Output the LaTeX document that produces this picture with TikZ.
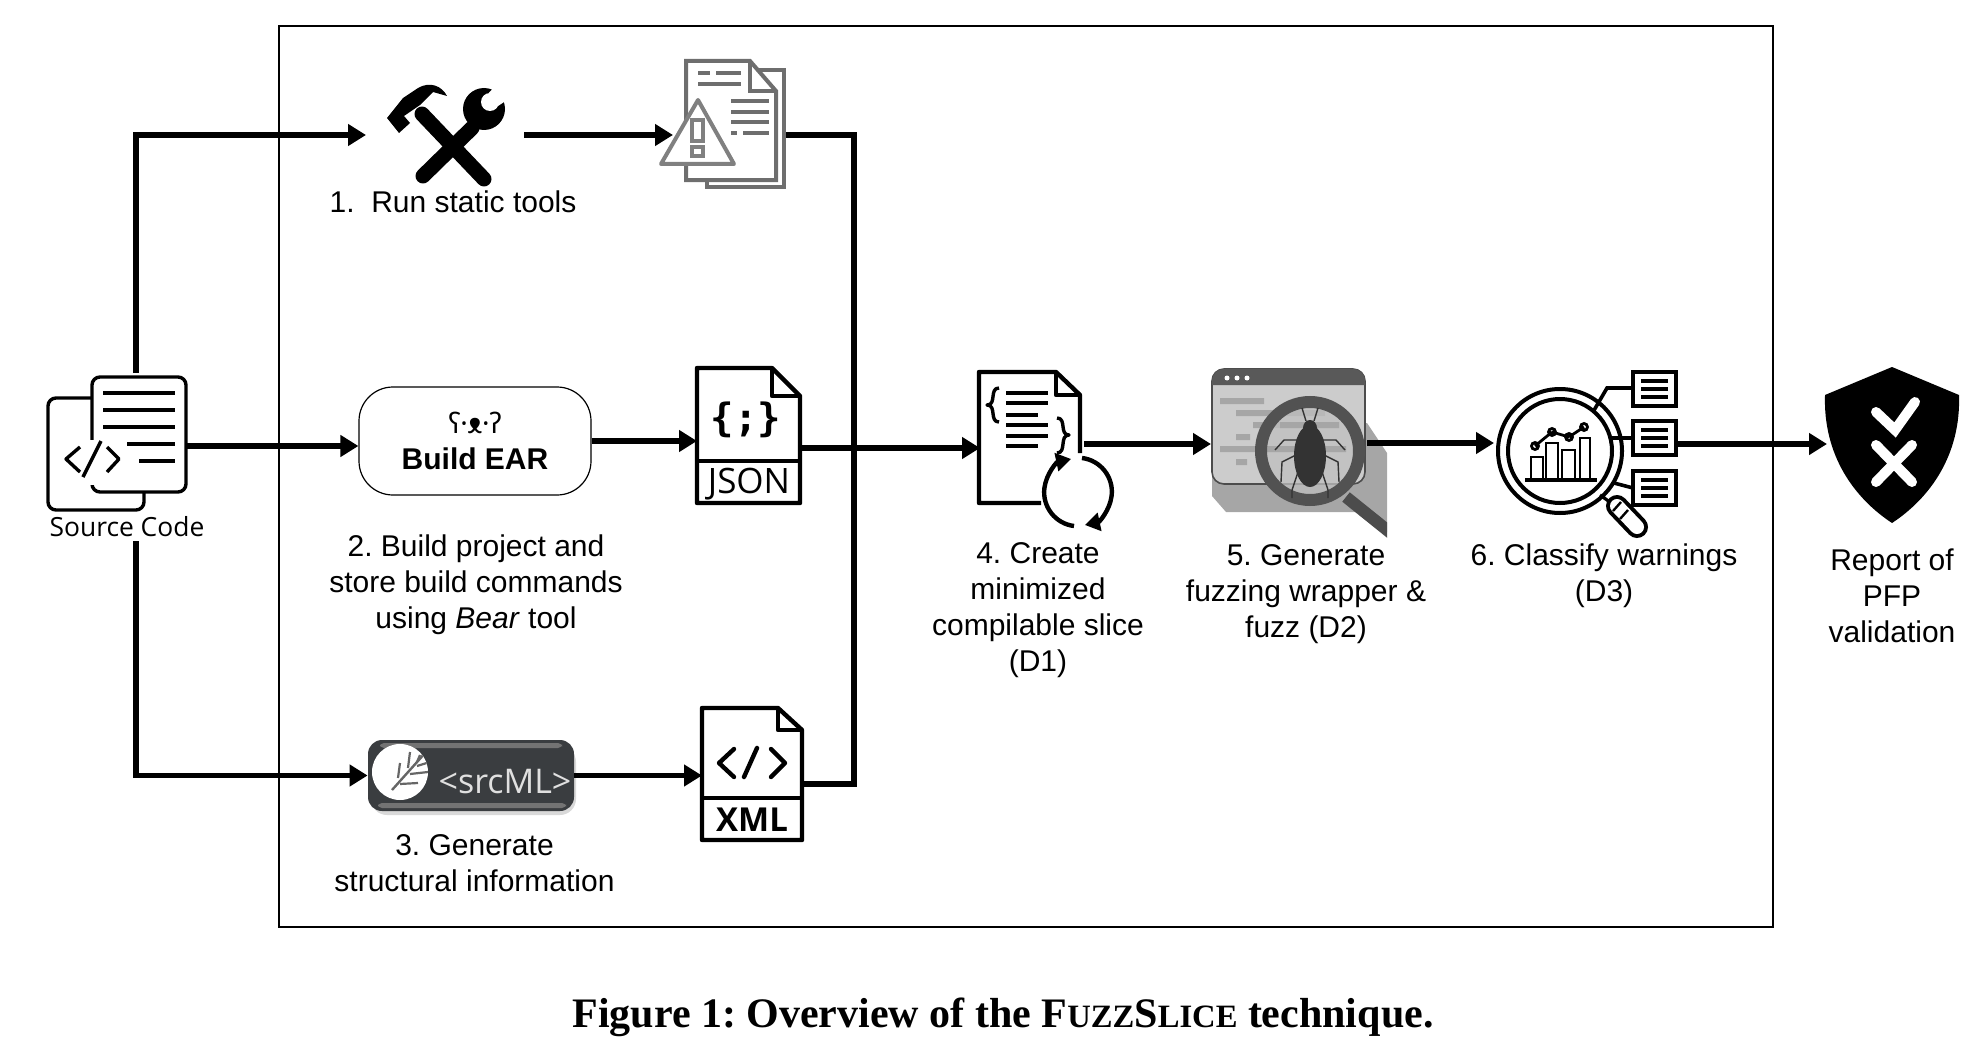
\documentclass[tikz,border=0pt]{standalone}
\usepackage{fontspec}
\setmainfont{Liberation Sans}
\newfontfamily\serifcap{Liberation Serif}
\newfontfamily\opensans{Open Sans}
\newfontfamily\notosans{Noto Sans}
\newfontfamily\dejamono{DejaVu Sans Mono}
\usetikzlibrary{arrows.meta,calc}
\definecolor{srcgray}{HTML}{3A3D40}
\definecolor{warngray}{HTML}{6E6E6E}
\frenchspacing
\tikzset{
  flow/.style={->,line width=2.8pt},
  busline/.style={line width=2.8pt,line join=miter},
  icon/.style={line width=2.2pt,line join=round},
  thinicon/.style={line width=1.7pt,line join=round},
  spot/.style={inner sep=0pt,outer sep=0pt,minimum width=#1*0.5pt,minimum height=10pt},
  stepnote/.style={font=\fontsize{15}{18}\selectfont,align=center,inner sep=0pt},
}
\begin{document}
\begin{tikzpicture}[x=0.5pt,y=-0.5pt,>={Triangle[length=9pt,width=10.5pt]}]
\useasboundingbox (0,0) rectangle (1976,1038);
\draw[line width=1pt] (278.5,26.5) rectangle (1773,927);

% anchors of the icons
\node[spot=138] (src) at (117,446) {};
\node[spot=158] (tools) at (445,135) {};
\node[spot=113] (warn) at (729.5,135) {};
\node[spot=103] (json) at (748.5,448) {};
\node[spot=104] (slice) at (1032,444) {};
\node[spot=156] (bug) at (1289,443) {};
\node[spot=182] (classify) at (1585,444) {};
\node[spot=130] (shield) at (1892,444) {};
\node[spot=100] (xml) at (752,784) {};
\coordinate (srctop) at (136,373);
\coordinate (srcbot) at (136,541);
\coordinate (bus) at (854,448);

% boxes
\node[draw,line width=0.6pt,rounded corners=17pt,minimum width=116pt,minimum height=54pt,inner sep=0pt] (ear) at (475,441) {};
\node[font=\notosans\bfseries\fontsize{14}{15}\selectfont,inner sep=0pt] (earlogo) at (475,423) {ʕ·ᴥ·ʔ};
\node[font=\bfseries\fontsize{15}{18}\selectfont,inner sep=0pt] (earname) at (475,459) {Build EAR};
\fill[black!15,rounded corners=8] (371,746) rectangle (576,815);
\node[fill=srcgray,rounded corners=7pt,minimum width=103pt,minimum height=35.5pt,inner sep=0pt] (srcml) at (471,775.5) {};
\fill[black!55,rounded corners=2] (380,743) rectangle (562,748);
\fill[black!55,rounded corners=2] (378,803) rectangle (566,808);
\fill[white] (400,772) circle[radius=28];
\begin{scope}
\clip (400,772) circle[radius=28];
\draw[black!60,line width=1.2pt] (392,790)--(426,752);
\draw[black!60,line width=1.1pt] (400,763)--(398,778) (410,752)--(408,768) (420,755)--(417,762)
  (400,784)--(418,783) (410,774)--(428,772) (417,766)--(430,762);
\end{scope}
\node[font=\opensans\fontsize{17}{18}\selectfont,text=black!12,inner sep=0pt] (srcmltext) at (505,782) {<srcML>};

% source code icon
\draw[thinicon,rounded corners=4] (92,398) -- (48,398) -- (48,510) -- (144,510) -- (144,492);
\draw[thinicon,rounded corners=4,fill=white] (92,484) -- (92,377) -- (186,377) -- (186,492) -- (92,492) -- (92,484);
\fill[white] (60,440) rectangle (125,485);
\draw[thinicon] (103,393)--(175,393) (103,410)--(175,410) (103,427)--(175,427)
  (127,444)--(175,444) (139,461)--(175,461);
\draw[thinicon] (80,447)--(66,459)--(80,472) (107,447)--(119,459)--(107,472) (101,441)--(83,477);
\node[font=\opensans\fontsize{13.2}{16}\selectfont,inner sep=0pt] (srclabel) at (127,527) {Source Code};

% hammer and wrench
\draw[line width=7.5pt,line cap=round] (422,114)--(484,179);
\draw[line width=7.5pt,line cap=round] (423,176)--(472,128);
\fill (484,109) circle[radius=21];
\fill[white] (490,102) circle[radius=9] (486,96) -- (497,84) -- (510,98) -- (498,106) -- cycle;
\fill (387,118) -- (399,133) -- (410,123) -- (404,116) -- (420,105) -- (433,92) -- (447,96) .. controls (442,86) and (430,81) .. (418,88)
  -- (403,98) -- cycle;

% warning report
\begin{scope}[line width=2pt,warngray,line join=miter]
\draw (750,70) -- (784,70) -- (784,187) -- (707,187) -- (707,172);
\draw[fill=white] (686,61) -- (750,61) -- (776,91) -- (776,180) -- (686,180) -- cycle;
\draw (750,61) -- (750,91) -- (776,91);
\draw (698,73)--(710,73) (716,73)--(741,73) (698,84)--(741,84);
\draw (731,101)--(769,101) (731,112)--(769,112) (731,122)--(769,122) (731,133)--(737,133) (743,133)--(769,133);
\end{scope}
\draw[line width=2pt,black!50,fill=white,line join=round] (698,100) -- (734,164) -- (661,164) -- cycle;
\draw[line width=2pt,black!50] (692,120) rectangle (703,141) (692,147) rectangle (703,156);

% json file
\draw[icon,fill=white] (697,368) -- (772,368) -- (800,396) -- (800,503) -- (697,503) -- cycle;
\draw[icon] (772,368) -- (772,396) -- (800,396) (697,461) -- (800,461);
\node[font=\dejamono\bfseries\fontsize{19.5}{20}\selectfont,inner sep=0pt] (jsonbrace) at (746,420) {\{;\}};
\node[font=\opensans\fontsize{17.5}{18}\selectfont,inner sep=0pt] (jsonname) at (749,484) {JSON};

% xml file
\draw[icon,fill=white] (702,708) -- (778,708) -- (802,730) -- (802,840) -- (702,840) -- cycle;
\draw[icon] (778,708) -- (778,730) -- (802,730) (702,798) -- (802,798);
\draw[icon,line cap=round] (734,749)--(719,763)--(734,777) (771,749)--(785,763)--(771,777) (757,748)--(744,777);
\node[font=\opensans\bfseries\fontsize{16.5}{18}\selectfont,inner sep=0pt] (xmlname) at (752,820) {XML};

% minimized slice
\draw[icon] (1080,453) -- (1080,395) -- (1056,372) -- (979,372) -- (979,503) -- (1041,503);
\draw[icon] (1056,372) -- (1056,395) -- (1080,395);
\draw[icon] (1006,393)--(1048,393) (1006,403)--(1048,403) (1006,415)--(1038,415)
  (1006,425)--(1048,425) (1006,436)--(1048,436) (1006,446)--(1038,446);
\draw[thinicon] (999,388) .. controls (989,388) and (997,405) .. (987,405) .. controls (997,405) and (989,422) .. (999,422);
\draw[thinicon] (1057,418) .. controls (1067,418) and (1059,435) .. (1069,435) .. controls (1059,435) and (1067,453) .. (1057,453);
\draw[->,line width=2.2pt,>={Triangle[length=7.5pt,width=9pt]}] (1074,526) arc[start angle=97,end angle=258,radius=34];
\draw[->,line width=2.2pt,>={Triangle[length=7.5pt,width=9pt]}] (1082,458) arc[start angle=277,end angle=438,radius=34];

% bug in browser window
\fill[black!35] (1367,423) -- (1387,453) -- (1387,532) -- (1372,512) -- (1226,512) -- (1212,496) -- (1212,470) -- cycle;
\draw[line width=0.8pt,black!70,fill=black!20,rounded corners=6] (1212,369) rectangle (1365,484);
\fill[black!65] (1212,385) [rounded corners=6] -- (1212,369) -- (1365,369) [sharp corners] -- (1365,385) -- cycle;
\fill[white] (1227,378) circle[radius=2.5] (1237,378) circle[radius=2.5] (1247,378) circle[radius=2.5];
\fill[black!35] (1220,398) rectangle (1264,404) (1236,410) rectangle (1325,416) (1253,422) rectangle (1339,428)
  (1236,434) rectangle (1250,440) (1220,446) rectangle (1346,452) (1236,459) rectangle (1247,465);
\begin{scope}
\clip (1330,480) rectangle (1387,540);
\draw[line width=6pt,black!70] (1346,497) -- (1392,534);
\end{scope}
\fill[black!25,opacity=0.75] (1310,451) circle[radius=50];
\fill[black!35] (1266,446) rectangle (1346,452) (1280,422) rectangle (1339,428);
\draw[line width=6pt,black!68] (1310,451) circle[radius=49];
\fill[black!80] (1310,456) ellipse[x radius=16,y radius=31];
\fill[black!80] (1310,428) ellipse[x radius=7,y radius=8];
\draw[black!80,line width=0.7pt] (1306,421) -- (1302,408) (1314,421) -- (1318,408)
  (1298,440) -- (1284,440) -- (1275,450) (1322,440) -- (1336,440) -- (1345,450)
  (1296,455) -- (1282,462) -- (1281,482) (1324,455) -- (1338,462) -- (1339,482)
  (1298,472) -- (1292,490) -- (1292,498) (1322,472) -- (1328,490) -- (1328,498);

% classify warnings
\draw[line width=2pt] (1560,451) circle[radius=62] (1560,451) circle[radius=52];
\draw[line width=1.8pt] (1525,480)--(1597,480);
\draw[line width=1.4pt] (1531,480) |- (1543,457) -- (1543,480) (1546,480) |- (1558,443) -- (1558,480)
  (1562,480) |- (1575,450) -- (1575,480) (1580,480) |- (1590,438) -- (1590,480);
\draw[line width=1.4pt,fill=white] (1535,446) circle[radius=3.5] -- (1552,432) circle[radius=3.5] -- (1569,437) circle[radius=3.5] -- (1584,427) circle[radius=3.5];
\draw[line width=1.6pt] (1600,495) -- (1614,505);
\draw[line width=11pt,line cap=round] (1617,506) -- (1637,527);
\draw[line width=7pt,white,line cap=round] (1617,506) -- (1637,527);
\draw[line width=1.2pt] (1621,502) -- (1613,511) (1628,510) -- (1620,519);
\draw[line width=1.8pt] (1593,412) -- (1607,388) -- (1633,388) (1610,438) -- (1633,438) (1614,483) -- (1633,488);
\foreach \ytop in {372,421,471}{
  \draw[line width=2pt,fill=white] (1633,\ytop) rectangle (1676,\ytop+34);
  \draw[line width=2pt] (1641,\ytop+9) -- (1668,\ytop+9) (1641,\ytop+17) -- (1668,\ytop+17) (1641,\ytop+25) -- (1668,\ytop+25);
}

% shield
\fill (1892,367) -- (1959,395) .. controls (1961,455) and (1930,498) .. (1892,523)
  .. controls (1854,498) and (1823,455) .. (1825,395) -- cycle;
\draw[white,line width=5pt,line cap=round,line join=miter] (1876,412) -- (1895,430) -- (1915,402);
\draw[white,line width=5pt,line cap=round] (1876,445) -- (1912,482) (1912,445) -- (1876,482);

% connectors
\draw[flow] (srctop) |- (tools.west);
\draw[flow] (src.east) -- (src.east -| ear.west);
\draw[flow] (srcbot) |- (srcml.west);
\draw[flow] (tools.east) -- (warn.west);
\draw[flow] (ear.east) -- (ear.east -| json.west);
\draw[flow] (srcml.east) -- (srcml.east -| xml.west);
\draw[busline] (warn.east) -| (bus) |- (xml.east);
\draw[flow] (json.east) -- (json.east -| slice.west);
\draw[flow] (slice.east) -- (slice.east -| bug.west);
\draw[flow] (bug.east) -- (bug.east -| classify.west);
\draw[flow] (classify.east) -- (classify.east -| shield.west);

% step labels
\node[stepnote] (toolsnote) at (453,202) {1.\ \ Run static tools};
\node[stepnote] (earnote) at (476,585) {2. Build project and\\store build commands\\using \textit{Bear} tool};
\node[stepnote] (srcmlnote) at (474.5,863.5) {3. Generate\\structural information};
\node[stepnote] (slicenote) at (1038,610) {4. Create\\minimized\\compilable slice\\(D1)};
\node[stepnote] (bugnote) at (1306,594) {5. Generate\\fuzzing wrapper \&\\fuzz (D2)};
\node[stepnote] (classifynote) at (1604,576) {6. Classify warnings\\(D3)};
\node[stepnote] (shieldnote) at (1892,596) {Report of\\PFP\\validation};
\node[font=\serifcap\bfseries\fontsize{21}{23}\selectfont,inner sep=0pt] (figcaption) at (1003,1017)
  {Figure 1: Overview of the F{\fontsize{16.3}{23}\selectfont UZZ}S{\fontsize{16.3}{23}\selectfont LICE} technique.};
\end{tikzpicture}
\end{document}
